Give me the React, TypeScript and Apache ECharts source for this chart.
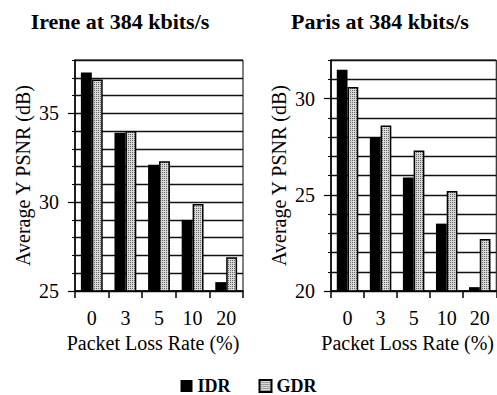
import React, { useEffect, useRef } from "react";
import * as echarts from "echarts";

const categories = ["0", "3", "5", "10", "20"];
const ireneIDR = [37.3, 33.9, 32.1, 29.0, 25.5];
const ireneGDR = [36.9, 34.0, 32.3, 29.9, 26.9];
const parisIDR = [31.5, 28.0, 25.9, 23.5, 20.2];
const parisGDR = [30.6, 28.6, 27.3, 25.2, 22.7];
const ireneTicks = [25, 30, 35];
const parisTicks = [20, 25, 30];

const FONT = "Liberation Serif";

function makePattern() {
  const cv = document.createElement("canvas");
  cv.width = 2;
  cv.height = 2;
  const ctx = cv.getContext("2d")!;
  ctx.fillStyle = "#d8d8d8";
  ctx.fillRect(0, 0, 2, 2);
  ctx.fillStyle = "#666666";
  ctx.fillRect(0, 0, 1, 1);
  return cv;
}

export default function App() {
  const ref = useRef<HTMLDivElement>(null);
  useEffect(() => {
    if (!ref.current) return;
    const chart = echarts.init(ref.current, undefined, { renderer: "svg" });
    const pattern = { image: makePattern(), repeat: "repeat" };
    const textBase = { fontFamily: FONT, color: "#000", fontSize: 20 };

    const xAxis = (gi: number) => ({
      type: "category",
      gridIndex: gi,
      data: categories,
      axisLine: { lineStyle: { color: "#000", width: 1.5 } },
      axisTick: { show: true, length: 7, lineStyle: { color: "#000", width: 1.5 } },
      axisLabel: { ...textBase, margin: 17 },
      name: "Packet Loss Rate (%)",
      nameLocation: "middle",
      nameGap: 41,
      nameTextStyle: { ...textBase, padding: [0, 12, 0, 0] },
    });
    const yMain = (gi: number, min: number, max: number, ticks: number[]) => ({
      type: "value",
      gridIndex: gi,
      position: "left",
      min,
      max,
      interval: 1,
      axisLine: { show: true, lineStyle: { color: "#000", width: 1.5 } },
      axisTick: { show: true, length: 7, customValues: ticks, lineStyle: { color: "#000", width: 1.2 } },
      axisLabel: {
        ...textBase,
        margin: 16,
        customValues: ticks,
        formatter: (v: number) => (v % 5 === 0 ? String(v) : ""),
      },
      splitLine: { show: false },
      name: "Average Y PSNR (dB)",
      nameLocation: "middle",
      nameGap: 42,
      nameTextStyle: { ...textBase },
    });
    const yMinor = (gi: number, min: number, max: number) => ({
      type: "value",
      gridIndex: gi,
      position: "left",
      min,
      max,
      interval: 1,
      axisLine: { show: false },
      axisTick: { show: true, length: 3, lineStyle: { color: "#000", width: 1 } },
      axisLabel: { show: false },
      splitLine: { show: true, lineStyle: { color: "#111", width: 1.3 } },
    });

    const barCommon = { type: "bar", barGap: "0%", barCategoryGap: "35%" };
    chart.setOption({
      animation: false,
      legend: {
        data: ["IDR", "GDR"],
        top: 371,
        left: "center",
        icon: "rect",
        itemWidth: 12,
        itemHeight: 12,
        itemGap: 28,
        textStyle: { fontFamily: FONT, fontSize: 18, fontWeight: "bold", color: "#000", lineHeight: 20 },
      },
      graphic: [
        {
          type: "text",
          x: 120,
          y: 21,
          style: { text: "Irene at 384 kbits/s", font: `bold 22px "${FONT}"`, fill: "#000", align: "center", verticalAlign: "middle" },
        },
        {
          type: "text",
          x: 380,
          y: 21,
          style: { text: "Paris at 384 kbits/s", font: `bold 22px "${FONT}"`, fill: "#000", align: "center", verticalAlign: "middle" },
        },
      ],
      grid: [
        { left: 75, top: 60, width: 168, height: 231, show: true, borderColor: "#000", borderWidth: 1 },
        { left: 331, top: 60, width: 168, height: 231, show: true, borderColor: "#000", borderWidth: 1 },
      ],
      xAxis: [xAxis(0), xAxis(1)],
      yAxis: [
        yMain(0, 25, 38, ireneTicks),
        yMinor(0, 25, 38),
        yMain(1, 20, 32, parisTicks),
        yMinor(1, 20, 32),
      ],
      series: [
        { ...barCommon, name: "IDR", xAxisIndex: 0, yAxisIndex: 0, data: ireneIDR, itemStyle: { color: "#000" } },
        { ...barCommon, name: "GDR", xAxisIndex: 0, yAxisIndex: 0, data: ireneGDR, itemStyle: { color: pattern, borderColor: "#000", borderWidth: 1.5 } },
        { ...barCommon, name: "IDR", xAxisIndex: 1, yAxisIndex: 2, data: parisIDR, itemStyle: { color: "#000" } },
        { ...barCommon, name: "GDR", xAxisIndex: 1, yAxisIndex: 2, data: parisGDR, itemStyle: { color: pattern, borderColor: "#000", borderWidth: 1.5 } },
      ],
    });
    return () => chart.dispose();
  }, []);
  return (
    <div
      ref={ref}
      style={{ position: "fixed", left: 0, top: 0, width: 497, height: 395, background: "#fff" }}
    />
  );
}
